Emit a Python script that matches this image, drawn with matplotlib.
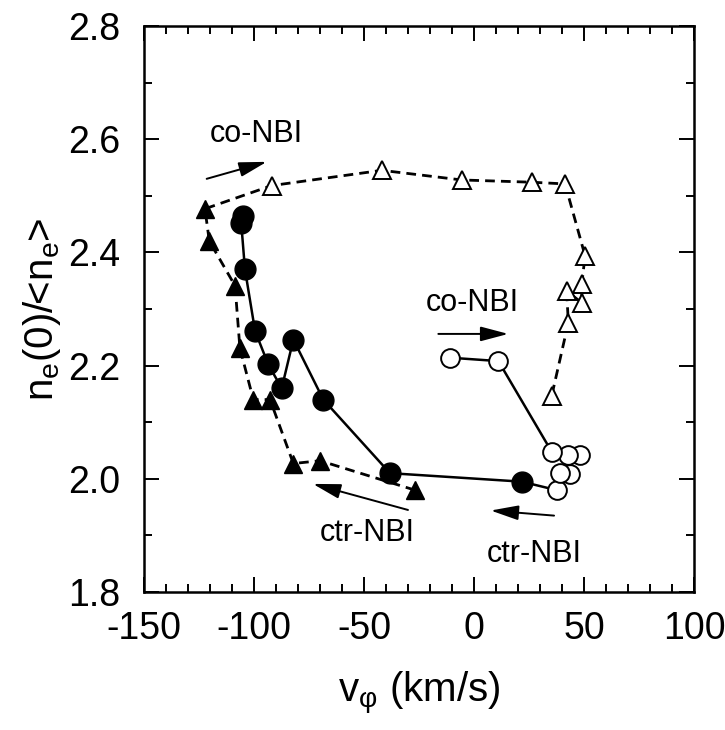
import matplotlib
matplotlib.use('Agg')
import matplotlib.pyplot as plt
from matplotlib.ticker import MultipleLocator, FormatStrFormatter

plt.rcParams['font.family'] = ['Liberation Sans', 'DejaVu Sans']
plt.rcParams['mathtext.fontset'] = 'custom'
plt.rcParams['mathtext.rm'] = 'Liberation Sans'
plt.rcParams['mathtext.it'] = 'Liberation Sans'
plt.rcParams['axes.unicode_minus'] = False

# filled + open triangles: one dashed path (ctr-NBI then co-NBI)
tri_fill_v = [-26.8, -70.0, -82.1, -92.7, -100.3, -106.4, -108.6, -120.3, -122.3]
tri_fill_n = [1.980, 2.032, 2.027, 2.140, 2.140, 2.231, 2.341, 2.420, 2.477]
tri_open_v = [-92.0, -41.9, -5.6, 26.2, 41.4, 50.5, 49.0, 49.0, 42.1, 42.9, 35.3]
tri_open_n = [2.518, 2.545, 2.528, 2.524, 2.521, 2.394, 2.344, 2.311, 2.332, 2.276, 2.146]

# filled + open circles: one solid path
circ_fill_v = [-105.0, -105.8, -104.1, -99.5, -93.5, -87.4, -82.1, -68.5, -38.2, 21.7]
circ_fill_n = [2.465, 2.452, 2.370, 2.261, 2.202, 2.160, 2.246, 2.140, 2.010, 1.995]
circ_open_v = [37.6, 43.6, 39.1, 48.2, 42.9, 35.3, 11.1, -10.9]
circ_open_n = [1.980, 2.008, 2.010, 2.042, 2.042, 2.048, 2.208, 2.214]

fig = plt.figure(figsize=(7.25, 7.30), dpi=100)
ax = fig.add_axes([0.1986, 0.1890, 0.7586, 0.7754])

ax.plot(tri_fill_v + tri_open_v, tri_fill_n + tri_open_n, color='black',
        lw=2.0, ls=(0, (3.5, 2.2)), zorder=1)
ax.plot(tri_fill_v, tri_fill_n, ls='none', marker='^', ms=12.5,
        mfc='black', mec='black', zorder=3)
ax.plot(tri_open_v, tri_open_n, ls='none', marker='^', ms=12.5,
        mfc='white', mec='black', mew=1.4, zorder=3)

ax.plot(circ_fill_v + circ_open_v, circ_fill_n + circ_open_n, color='black',
        lw=1.8, zorder=2)
ax.plot(circ_fill_v, circ_fill_n, ls='none', marker='o', ms=15,
        mfc='black', mec='black', zorder=4)
ax.plot(circ_open_v, circ_open_n, ls='none', marker='o', ms=13.5,
        mfc='white', mec='black', mew=1.4, zorder=4)

# beam direction labels and arrows
arrow = dict(arrowstyle='-|>,head_length=1.7,head_width=0.45', color='black',
             lw=1.4, shrinkA=0, shrinkB=0)
ax.annotate('', xy=(-94.2, 2.560), xytext=(-121.5, 2.530), arrowprops=arrow)
ax.text(-99, 2.609, 'co-NBI', fontsize=22, ha='center', va='center')
ax.annotate('', xy=(15.6, 2.256), xytext=(-16.2, 2.256), arrowprops=arrow)
ax.text(-0.7, 2.311, 'co-NBI', fontsize=22, ha='center', va='center')
ax.annotate('', xy=(-73.2, 1.991), xytext=(-30.0, 1.945), arrowprops=arrow)
ax.text(-48.6, 1.905, 'ctr-NBI', fontsize=22, ha='center', va='center')
ax.annotate('', xy=(7.6, 1.944), xytext=(36.4, 1.935), arrowprops=arrow)
ax.text(27.3, 1.867, 'ctr-NBI', fontsize=22, ha='center', va='center')

ax.set_xlim(-150, 100)
ax.set_ylim(1.8, 2.8)
ax.xaxis.set_major_locator(MultipleLocator(50))
ax.xaxis.set_minor_locator(MultipleLocator(10))
ax.yaxis.set_major_locator(MultipleLocator(0.2))
ax.yaxis.set_minor_locator(MultipleLocator(0.1))
ax.yaxis.set_major_formatter(FormatStrFormatter('%.1f'))
ax.tick_params(which='both', direction='in', top=True, right=True, width=1.4)
ax.tick_params(which='major', length=11, labelsize=27)
ax.tick_params(axis='y', which='major', pad=17)
ax.tick_params(axis='x', which='major', pad=14)
ax.tick_params(which='minor', length=6)
for s in ax.spines.values():
    s.set_linewidth(1.8)

ax.set_xlabel(r'v$_{\mathregular{\varphi}}$ (km/s)', fontsize=29, labelpad=16)
ax.set_ylabel(r'n$_\mathregular{e}$(0)/<n$_\mathregular{e}$>', fontsize=29, labelpad=4)

fig.savefig('out.png', dpi=100)
